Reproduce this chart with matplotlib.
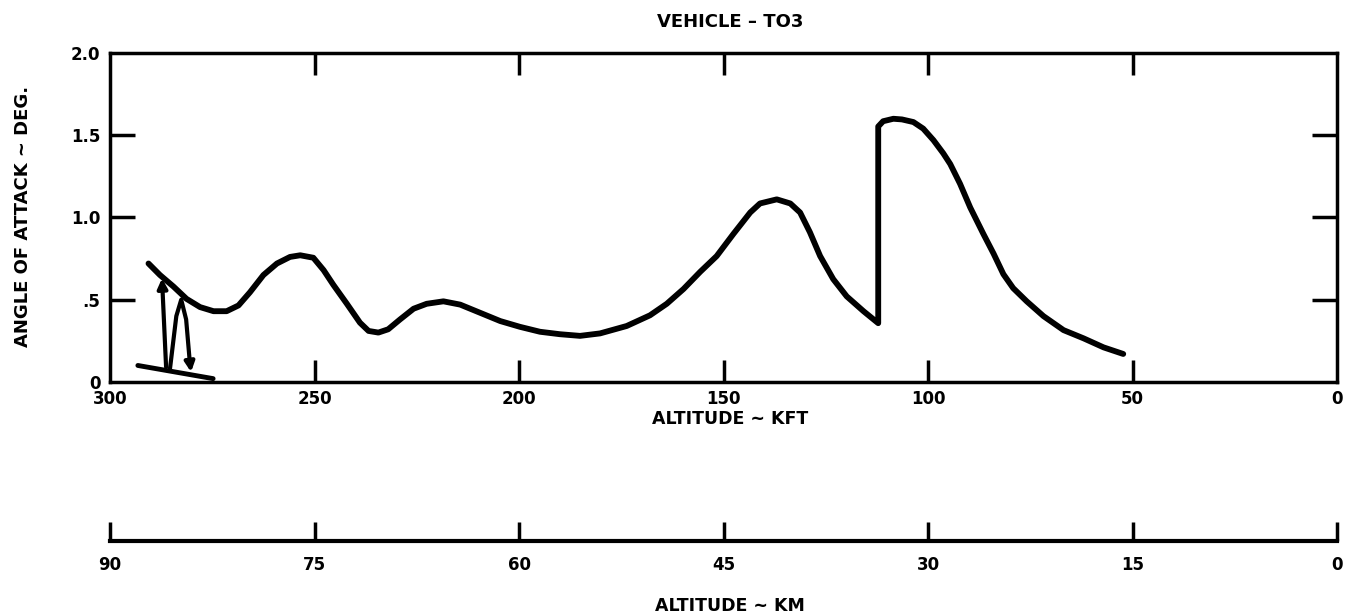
import matplotlib.pyplot as plt

# Angle of attack vs altitude, vehicle TO3
alt_kft = [290.6, 287.8, 284.5, 281.3, 278.0, 274.7, 271.5, 268.6, 265.8, 262.5,
           259.2, 256.0, 253.5, 250.3, 247.8, 245.4, 242.1, 238.9, 236.8, 234.4,
           232.0, 229.1, 225.8, 222.6, 218.5, 214.4, 209.5, 204.6, 199.8, 194.9,
           190.0, 185.1, 180.2, 173.7, 168.0, 163.9, 159.8, 155.7, 151.7, 147.6,
           143.5, 141.1, 137.0, 133.7, 131.3, 128.9, 126.4, 123.2, 119.9, 115.8,
           112.2, 112.2, 111.0, 108.5, 106.4, 103.6, 101.2, 98.7, 96.3, 94.6,
           92.2, 89.7, 86.5, 84.0, 81.6, 79.2, 75.9, 71.8, 66.9, 62.0,
           57.1, 52.3]
aoa_deg = [0.72, 0.65, 0.58, 0.505, 0.455, 0.43, 0.43, 0.465, 0.545, 0.65,
           0.72, 0.76, 0.77, 0.755, 0.68, 0.59, 0.475, 0.36, 0.31, 0.30,
           0.32, 0.38, 0.445, 0.475, 0.49, 0.47, 0.42, 0.37, 0.335, 0.305,
           0.29, 0.28, 0.295, 0.34, 0.405, 0.475, 0.565, 0.67, 0.765, 0.90,
           1.03, 1.085, 1.11, 1.085, 1.03, 0.91, 0.765, 0.625, 0.52, 0.43,
           0.357, 1.553, 1.585, 1.60, 1.596, 1.58, 1.54, 1.47, 1.39, 1.325,
           1.205, 1.06, 0.90, 0.78, 0.655, 0.57, 0.49, 0.40, 0.315, 0.265,
           0.21, 0.17]

# hand drawn marks near the start of the trace
base_alt = [293.2, 274.8]
base_aoa = [0.10, 0.02]
up_alt = [286.3, 287.3]
up_aoa = [0.09, 0.63]
hump_alt = [285.3, 283.8, 282.6, 281.4, 280.5]
hump_aoa = [0.09, 0.40, 0.50, 0.38, 0.12]
down_tip = (280.2, 0.06)

kft_ticks = [300, 250, 200, 150, 100, 50, 0]
km_ticks = [90, 75, 60, 45, 30, 15, 0]
aoa_ticks = [0, 0.5, 1.0, 1.5, 2.0]
aoa_labels = ['0', '.5', '1.0', '1.5', '2.0']

plt.rcParams['font.family'] = ['DejaVu Sans']
plt.rcParams['font.weight'] = 'bold'

fig = plt.figure(figsize=(13.47, 6.16), dpi=100)
ax = fig.add_axes([0.0817, 0.380, 0.911, 0.534])

ax.plot(alt_kft, aoa_deg, color='black', lw=4.2,
        solid_joinstyle='round', solid_capstyle='round')

# sketch marks
ax.plot(base_alt, base_aoa, color='black', lw=3.5, solid_capstyle='round')
ax.annotate('', xy=(up_alt[1], up_aoa[1]), xytext=(up_alt[0], up_aoa[0]),
            arrowprops=dict(arrowstyle='-|>', color='black', lw=3,
                            mutation_scale=14, shrinkA=0, shrinkB=0))
ax.plot(hump_alt, hump_aoa, color='black', lw=3, solid_joinstyle='round')
ax.annotate('', xy=down_tip, xytext=(hump_alt[-1], hump_aoa[-1]),
            arrowprops=dict(arrowstyle='-|>', color='black', lw=3,
                            mutation_scale=14, shrinkA=0, shrinkB=0))

ax.set_xlim(300, 0)
ax.set_ylim(0, 2.0)
ax.set_xticks(kft_ticks)
ax.set_xticklabels([str(t) for t in kft_ticks])
ax.set_yticks(aoa_ticks)
ax.set_yticklabels(aoa_labels)
ax.tick_params(axis='both', direction='in', top=True, right=True,
               length=16, width=2.5, labelsize=12, color='black')
ax.tick_params(axis='x', pad=6)
ax.tick_params(axis='y', pad=7, length=18)
for s in ax.spines.values():
    s.set_linewidth(2.5)

# no tick marks at the corners, only labels
for axis in [ax.xaxis, ax.yaxis]:
    ticks = axis.get_major_ticks()
    for t in [ticks[0], ticks[-1]]:
        t.tick1line.set_visible(False)
        t.tick2line.set_visible(False)

# second scale in kilometres
ax2 = fig.add_axes([0.0817, 0.122, 0.911, 0.05])
ax2.set_xlim(90, 0)
ax2.set_ylim(0, 1)
ax2.set_xticks(km_ticks)
ax2.set_xticklabels([str(t) for t in km_ticks])
ax2.set_yticks([])
for side in ['top', 'left', 'right']:
    ax2.spines[side].set_visible(False)
ax2.spines['bottom'].set_linewidth(3)
ax2.tick_params(axis='x', direction='in', length=14, width=2.5,
                labelsize=12, pad=11)
ax2.patch.set_alpha(0)

fig.text(0.542, 0.964, 'VEHICLE – TO3', ha='center', va='center', fontsize=13)
fig.text(0.542, 0.320, 'ALTITUDE ~ KFT', ha='center', va='center', fontsize=12.5)
fig.text(0.542, 0.016, 'ALTITUDE ~ KM', ha='center', va='center', fontsize=12.5)
fig.text(0.017, 0.649, 'ANGLE OF ATTACK ~ DEG.', ha='center', va='center',
         rotation=90, fontsize=13)

fig.savefig('out.png', dpi=100)
